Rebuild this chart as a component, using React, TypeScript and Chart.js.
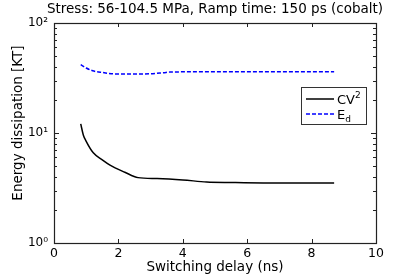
import React, { useEffect, useRef } from "react";
import { Chart, registerables } from "chart.js";

Chart.register(...registerables);

const titleText = "Stress: 56-104.5 MPa, Ramp time: 150 ps (cobalt)";
const xTitle = "Switching delay (ns)";
const yTitle = "Energy dissipation [KT]";

const cvDelay = [0.83, 0.91, 1.0, 1.22, 1.5, 1.74, 2.2, 2.61, 3.2, 4.0, 4.74, 5.5, 6.5, 7.5, 8.7];
const cvEnergy = [12.1, 9.6, 8.4, 6.6, 5.7, 5.1, 4.4, 3.93, 3.85, 3.74, 3.59, 3.55, 3.52, 3.52, 3.52];

const edDelay = [0.83, 1.0, 1.2, 1.5, 1.96, 2.8, 3.4, 3.6, 4.5, 6.0, 7.5, 8.7];
const edEnergy = [41.8, 39, 36.8, 35.5, 34.4, 34.4, 35.3, 35.8, 36, 36, 36, 36];

const xTicks = [0, 2, 4, 6, 8, 10];
const yMajor = [1, 10, 100];
const yLabels: Record<number, string> = { 1: "10\u2070", 10: "10\u00b9", 100: "10\u00b2" };

const FONT = "'DejaVu Sans', Verdana, sans-serif";

const framePlugin = {
  id: "frame",
  afterDatasetsDraw(chart: any) {
    const { ctx, chartArea: a, scales } = chart;
    const xs = scales.x;
    const ys = scales.y;
    ctx.save();
    ctx.strokeStyle = "#222";
    ctx.lineWidth = 1;
    ctx.beginPath();
    for (const t of xTicks) {
      const px = Math.round(xs.getPixelForValue(t)) + 0.5;
      ctx.moveTo(px, a.bottom);
      ctx.lineTo(px, a.bottom - 4);
      ctx.moveTo(px, a.top);
      ctx.lineTo(px, a.top + 4);
    }
    for (let d = 1; d < 100; d *= 10) {
      for (let m = 1; m <= 10; m++) {
        const v = d * m;
        const py = Math.round(ys.getPixelForValue(v)) + 0.5;
        const len = m === 1 || m === 10 ? 5 : 3;
        ctx.moveTo(a.left, py);
        ctx.lineTo(a.left + len, py);
        ctx.moveTo(a.right, py);
        ctx.lineTo(a.right - len, py);
      }
    }
    ctx.stroke();
    ctx.lineWidth = 1.2;
    ctx.strokeRect(Math.round(a.left) + 0.5, Math.round(a.top) + 0.5, Math.round(a.right - a.left), Math.round(a.bottom - a.top));

    // title centred over the plot area
    ctx.fillStyle = "#000";
    ctx.font = `13.5px ${FONT}`;
    ctx.textAlign = "center";
    ctx.textBaseline = "middle";
    ctx.fillText(titleText, (a.left + a.right) / 2, 9);

    // y axis title
    ctx.save();
    ctx.translate(18, 123);
    ctx.rotate(-Math.PI / 2);
    ctx.fillText(yTitle, 0, 0);
    ctx.restore();

    // legend
    const lx = 301, ly = 87, lw = 65, lh = 37;
    ctx.fillStyle = "#fff";
    ctx.fillRect(lx, ly, lw, lh);
    ctx.strokeStyle = "#333";
    ctx.lineWidth = 1;
    ctx.strokeRect(lx + 0.5, ly + 0.5, lw, lh);
    ctx.beginPath();
    ctx.strokeStyle = "#000";
    ctx.lineWidth = 1.5;
    ctx.moveTo(lx + 5, ly + 12);
    ctx.lineTo(lx + 33, ly + 12);
    ctx.stroke();
    ctx.beginPath();
    ctx.strokeStyle = "#0000ff";
    ctx.setLineDash([4, 2]);
    ctx.moveTo(lx + 5, ly + 27);
    ctx.lineTo(lx + 33, ly + 27);
    ctx.stroke();
    ctx.setLineDash([]);
    ctx.fillStyle = "#000";
    ctx.textBaseline = "alphabetic";
    ctx.textAlign = "left";
    ctx.font = `13px ${FONT}`;
    ctx.fillText("CV", lx + 36, ly + 17);
    const cw = ctx.measureText("CV").width;
    ctx.font = `9px ${FONT}`;
    ctx.fillText("2", lx + 36 + cw, ly + 11);
    ctx.font = `13px ${FONT}`;
    ctx.fillText("E", lx + 36, ly + 32);
    const ew = ctx.measureText("E").width;
    ctx.font = `9px ${FONT}`;
    ctx.fillText("d", lx + 36 + ew, ly + 35);
    ctx.restore();
  },
};

export default function App() {
  const ref = useRef<HTMLCanvasElement | null>(null);
  useEffect(() => {
    if (!ref.current) return;
    const chart = new Chart(ref.current, {
      type: "line",
      data: {
        datasets: [
          {
            label: "CV2",
            data: cvDelay.map((x, i) => ({ x, y: cvEnergy[i] })),
            borderColor: "#000",
            borderWidth: 1.5,
            pointRadius: 0,
            cubicInterpolationMode: "monotone",
            fill: false,
          },
          {
            label: "Ed",
            data: edDelay.map((x, i) => ({ x, y: edEnergy[i] })),
            borderColor: "#0000ff",
            borderWidth: 1.5,
            borderDash: [4, 2],
            pointRadius: 0,
            cubicInterpolationMode: "monotone",
            fill: false,
          },
        ],
      },
      plugins: [framePlugin],
      options: {
        animation: false,
        responsive: false,
        maintainAspectRatio: false,
        layout: { padding: { left: 0, right: 39, top: 23, bottom: 0 } },
        plugins: {
          legend: { display: false },
          tooltip: { enabled: false },
          title: { display: false },
        },
        scales: {
          x: {
            type: "linear",
            min: 0,
            max: 10,
            afterBuildTicks: (s: any) => {
              s.ticks = xTicks.map((v) => ({ value: v }));
            },
            afterFit: (s: any) => {
              s.height = 34;
            },
            grid: { display: false, drawTicks: false },
            border: { display: false },
            ticks: {
              color: "#000",
              font: { family: FONT, size: 12.5 },
              padding: 3,
              maxRotation: 0,
            },
            title: {
              display: true,
              text: xTitle,
              color: "#000",
              font: { family: FONT, size: 13.5 },
              padding: { top: 0, bottom: 1 },
            },
          },
          y: {
            type: "logarithmic",
            min: 1,
            max: 100,
            afterBuildTicks: (s: any) => {
              s.ticks = yMajor.map((v) => ({ value: v }));
            },
            afterFit: (s: any) => {
              s.width = 54;
            },
            grid: { display: false, drawTicks: false },
            border: { display: false },
            ticks: {
              color: "#000",
              font: { family: FONT, size: 12 },
              padding: 6,
              callback: (v: any) => yLabels[Number(v)] ?? "",
            },
            title: { display: false },
          },
        },
      },
    });
    return () => chart.destroy();
  }, []);
  return (
    <div style={{ position: "fixed", left: 0, top: 0, width: 415, height: 277, background: "#fff" }}>
      <canvas ref={ref} width={415} height={277} style={{ width: 415, height: 277 }} />
    </div>
  );
}
